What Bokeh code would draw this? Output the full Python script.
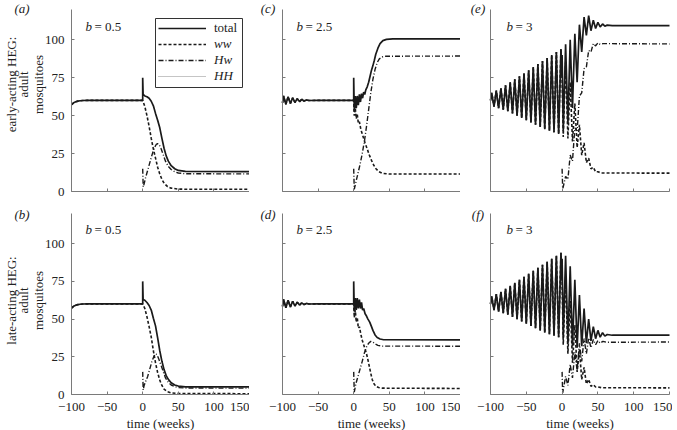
import math
from bokeh.plotting import figure
from bokeh.models import Range1d, FixedTicker, Label, Legend, LegendItem, BoxAnnotation
from bokeh.layouts import row, column
from bokeh.embed import file_html
from bokeh.resources import INLINE

FONT = "Liberation Serif"

# ---------------- ticks ----------------
x_ticks = [-100, -50, 0, 50, 100, 150]
x_tick_text = {-100: "\u2212100", -50: "\u221250"}
y_ticks = [0, 25, 50, 75, 100]

# ---------------- data ----------------
pre_smooth_t = [-100, -97, -94, -91, -88, -84, -78, -60, -30, 0]
pre_smooth_v = [57.3, 58.5, 59.2, 59.6, 59.85, 60.0, 60.05, 60.05, 60.05, 60.05]

pre_damped_t = [-100, -98.5, -95.3, -92.1, -88.9, -85.7, -82.5, -79.3, -76.1, -72.9,
                -69.7, -66.5, -63, -50, 0]
pre_damped_v = [58.5, 63, 57.5, 62.5, 58, 61.8, 58.7, 61.2, 59.3, 60.8,
                59.6, 60.4, 60.0, 60.1, 60.1]

pre_osc_t = [-100.0, -98.3, -95.1, -91.9, -88.7, -85.4, -82.2, -79.0, -75.8, -72.5,
             -69.3, -66.1, -62.9, -59.6, -56.4, -53.2, -50.0, -46.7, -43.5, -40.3,
             -37.1, -33.8, -30.6, -27.4, -24.2, -20.9, -17.7, -14.5, -11.3, -8.0,
             -4.8, -1.6, 0.0]
pre_osc_v = [60, 65, 56, 66.5, 55, 68, 54, 70, 53, 72,
             51.5, 74, 50, 76, 48.5, 78, 47, 80, 45.5, 82,
             44, 84, 42.5, 86, 41, 88, 40, 90, 39, 92,
             38, 94, 75]

a_total_t = [0, 0.6, 3, 6, 9, 12, 15, 18, 21, 24, 27, 30, 33, 36, 40, 45, 50, 60, 150]
a_total_v = [75, 64, 63, 62.5, 61.5, 59.5, 56.5, 51.5, 47, 42, 35, 28.5, 23.5, 20, 17, 15, 13.9, 13.3, 13.1]
a_ww_t = [0, 3, 6, 9, 12, 15, 18, 21, 24, 27, 30, 35, 40, 50, 60, 150]
a_ww_v = [60, 56, 50, 43, 35, 28, 22, 16, 11.5, 8, 5.5, 3.2, 2.2, 1.6, 1.5, 1.5]
a_hw_t = [0, 0.7, 2, 4, 7, 10, 13, 16, 19, 21, 23, 26, 29, 32, 36, 40, 45, 50, 60, 150]
a_hw_v = [15, 3, 5, 9, 14, 19, 24, 28.5, 31, 31.5, 31, 28, 24, 20, 16.5, 14.5, 13, 12.2, 11.7, 11.6]

b_total_t = [0, 0.6, 3, 6, 9, 12, 15, 18, 21, 24, 27, 30, 33, 36, 40, 45, 50, 60, 150]
b_total_v = [75, 63, 62.5, 61, 59, 56, 50.5, 45.5, 37.5, 29, 22, 16.5, 12.5, 10, 7.8, 6.3, 5.6, 5.1, 5.0]
b_ww_t = [0, 3, 6, 9, 12, 15, 18, 21, 24, 27, 30, 35, 40, 50, 150]
b_ww_v = [60, 57, 51.5, 45, 38, 29, 21, 14.5, 9.5, 6, 3.5, 1.8, 1.1, 0.7, 0.5]
b_hw_t = [0, 0.7, 2, 4, 7, 10, 13, 16, 18, 20, 23, 26, 29, 32, 36, 40, 45, 50, 60, 150]
b_hw_v = [15, 3, 6, 8.5, 12, 17, 22, 25.5, 27, 26.5, 23, 19, 15, 11, 8, 6.3, 5.2, 4.6, 4.3, 4.2]

c_total_t = [0, 0.8, 2.2, 3.6, 5, 6.5, 8, 9.5, 11, 12.5, 14, 15.5, 17, 19, 21, 23, 25,
             27, 29, 31, 34, 37, 41, 46, 55, 150]
c_total_v = [75, 53, 63, 55, 63, 57, 64, 59, 64.5, 61.5, 65.5, 64, 67, 69, 72, 76, 80,
             83, 86.5, 90.5, 94.5, 97.5, 99.5, 100.3, 100.6, 100.6]
c_ww_t = [0, 0.8, 2.2, 3.6, 5, 6.5, 8, 10, 13, 16, 19, 22, 25, 28, 31, 35, 40, 50, 150]
c_ww_v = [60, 50, 55, 48, 51, 45, 46, 41, 36.5, 32, 28, 24, 20.5, 17.5, 15.2, 13.2, 12, 11.5, 11.5]
c_hw_t = [0, 0.8, 3, 6, 9, 12, 15, 18, 21, 24, 27, 30, 33, 36, 40, 45, 150]
c_hw_v = [15, 1.5, 6, 12, 18, 25, 33, 43, 54, 65, 74, 80.5, 85, 87.5, 88.7, 89.2, 89.3]

d_total_t = [0, 0.8, 2.2, 3.6, 5, 6.5, 8, 9.5, 11, 12.5, 14, 16, 18, 20, 22.5, 25, 27,
             30, 33, 37, 42, 150]
d_total_v = [75, 55, 64, 56, 64, 57, 63, 57, 61, 56, 57, 53.5, 52, 50, 48, 45, 42.5,
             39.5, 37.8, 36.8, 36.3, 36.2]
d_ww_t = [0, 0.8, 2.2, 3.6, 5, 6.5, 8, 10, 12, 14, 16, 18, 20, 22, 24, 26, 28, 31, 35, 40, 150]
d_ww_v = [60, 51, 56, 48, 51, 44, 45, 40, 36, 33, 30, 27, 23, 18.5, 14, 10, 7.5, 5.5, 4.6, 4.2, 4.0]
d_hw_t = [0, 0.8, 3, 6, 9, 12, 15, 18, 21, 24, 27, 30, 34, 40, 150]
d_hw_v = [15, 1.5, 7, 12, 17, 22, 27.5, 31.5, 34, 35.2, 34.8, 33.6, 32.6, 32.1, 32.0]

e_total_t = [0.0, 1.6, 4.9, 8.1, 11.3, 14.5, 17.8, 21.0, 24.2, 27.4, 30.7, 33.9, 37.1,
             40.3, 43.6, 46.8, 50.0, 53.2, 56.5, 59.7, 63.0, 70.0, 150]
e_total_v = [90, 40, 97, 45, 100, 55, 104, 72, 110, 92, 115, 103, 116,
             106, 113, 107.5, 111.5, 108.5, 110.5, 109, 109.7, 109.4, 109.4]
e_ww_t = [0.0, 1.6, 4.9, 8.1, 11.3, 14.5, 17.8, 21.0, 24.2, 27.4, 30.7, 33.9, 37.1,
          40.3, 43.6, 46.8, 50.0, 55.0, 150]
e_ww_v = [75, 36, 85, 35, 72, 33, 58, 29, 44, 24, 32, 19, 22,
          15, 16, 13, 13, 12.2, 12.1]
e_hw_t = [0.0, 0.8, 1.6, 4.9, 8.1, 11.3, 14.5, 17.8, 21.0, 24.2, 27.4, 30.7, 33.9,
          37.1, 40.3, 43.6, 46.8, 50.0, 53.2, 57.0, 150]
e_hw_v = [15, 2, 3, 10, 8, 24, 20, 42, 40, 63, 65, 81, 82,
          93, 92, 97.5, 96, 98, 97, 97.5, 97.3]

f_total_t = [0.0, 1.6, 4.9, 8.1, 11.3, 14.5, 17.8, 21.0, 24.2, 27.4, 30.7, 33.9, 37.1,
             40.3, 43.6, 46.8, 50.0, 53.2, 56.5, 59.7, 63.0, 70.0, 150]
f_total_v = [90, 38, 92, 34, 85, 32, 76, 31, 66, 32, 57, 34, 50,
             35.5, 45, 37, 42.5, 38, 41, 38.7, 39.8, 39.3, 39.3]
f_ww_t = [0.0, 1.6, 4.9, 8.1, 11.3, 14.5, 17.8, 21.0, 24.2, 27.4, 30.7, 33.9, 37.1,
          40.3, 43.6, 46.8, 50.0, 55.0, 150]
f_ww_v = [75, 33, 78, 27, 62, 21, 46, 15, 30, 10, 18, 7, 10,
          5.5, 6.5, 5, 5, 4.5, 4.4]
f_hw_t = [0.0, 0.8, 1.6, 4.9, 8.1, 11.3, 14.5, 17.8, 21.0, 24.2, 27.4, 30.7, 33.9,
          37.1, 40.3, 43.6, 46.8, 50.0, 53.2, 57.0, 62.0, 150]
f_hw_v = [15, 1, 3, 12, 6, 20, 11, 28, 16, 34, 22, 37, 27,
          37.5, 31, 36.5, 33, 35.8, 34, 35.2, 34.6, 34.8]

hh_t = [0, 150]
hh_v = [0, 0]

panel_labels = ["(a)", "(b)", "(c)", "(d)", "(e)", "(f)"]
b_values = ["0.5", "0.5", "2.5", "2.5", "3", "3"]
row_titles = [["early-acting HEG:", "adult", "mosquitoes"],
              ["late-acting HEG:", "adult", "mosquitoes"]]
legend_names = ["total", "ww", "Hw", "HH"]

panels = {
    "a": (pre_smooth_t, pre_smooth_v, a_total_t, a_total_v, a_ww_t, a_ww_v, a_hw_t, a_hw_v),
    "b": (pre_smooth_t, pre_smooth_v, b_total_t, b_total_v, b_ww_t, b_ww_v, b_hw_t, b_hw_v),
    "c": (pre_damped_t, pre_damped_v, c_total_t, c_total_v, c_ww_t, c_ww_v, c_hw_t, c_hw_v),
    "d": (pre_damped_t, pre_damped_v, d_total_t, d_total_v, d_ww_t, d_ww_v, d_hw_t, d_hw_v),
    "e": (pre_osc_t, pre_osc_v, e_total_t, e_total_v, e_ww_t, e_ww_v, e_hw_t, e_hw_v),
    "f": (pre_osc_t, pre_osc_v, f_total_t, f_total_v, f_ww_t, f_ww_v, f_hw_t, f_hw_v),
}

# ---------------- styling ----------------
LINE = "#1a1a1a"
GRAY = "#8a8a8a"
AXIS = "#7a7a7a"
TXT = "#222222"
STY_TOTAL = dict(line_color=LINE, line_width=1.7)
STY_WW = dict(line_color=LINE, line_width=1.6, line_dash="3 2")
STY_HW = dict(line_color=LINE, line_width=1.4, line_dash="5 2 1 2")
STY_HH = dict(line_color=GRAY, line_width=1.2, line_dash="1 1")

# ---------------- layout geometry (page pixels) ----------------
ROOT_LEFT, ROOT_TOP = 2, 0
col_canvas = [(2, 249), (249, 460), (460, 672)]
col_data = [(71, 249), (282, 460), (490, 669)]
row_canvas = [(0, 200), (200, 430)]
row_data = [(9, 191), (213, 394)]
X0, X1, Y0, Y1 = -100, 150, 0, 120
LEG_BOX = (155, 242, 18, 87)   # left, right, top, bottom (page px)
LEG_ROW = 16


def make_panel(key, ci, ri, idx):
    pre_t, pre_v, tt, tv, wt, wv, ht, hv = panels[key]
    cl, cr = col_canvas[ci]
    dl, dr = col_data[ci]
    ct, cb = row_canvas[ri]
    dt, db = row_data[ri]
    sx = (dr - dl) / (X1 - X0)
    sy = (db - dt) / (Y1 - Y0)
    xr = Range1d(X0 - (dl - cl) / sx, X1 + (cr - dr) / sx)
    yr = Range1d(Y0 - (cb - db) / sy, Y1 + (dt - ct) / sy)

    p = figure(width=cr - cl, height=cb - ct, min_border=0,
               min_border_left=0, min_border_right=0, min_border_top=0, min_border_bottom=0,
               x_range=xr, y_range=yr, output_backend="svg", toolbar_location=None)
    p.outline_line_color = None
    p.grid.visible = False
    p.background_fill_color = "white"
    p.border_fill_color = "white"

    xa, ya = p.xaxis[0], p.yaxis[0]
    xa.fixed_location = 0
    ya.fixed_location = -100
    xa.bounds = (X0, X1)
    ya.bounds = (Y0, Y1)
    for ax in (xa, ya):
        ax.axis_line_color = AXIS
        ax.axis_line_width = 1
        ax.major_tick_line_color = AXIS
        ax.major_tick_in = 3
        ax.major_tick_out = 0
        ax.minor_tick_line_color = None
        ax.major_label_text_font = FONT
        ax.major_label_text_color = TXT
        ax.major_label_text_font_size = "13px"
    xa.ticker = FixedTicker(ticks=x_ticks)
    ya.ticker = FixedTicker(ticks=y_ticks)
    xa.major_label_overrides = x_tick_text

    if ri == 1:
        xa.major_label_standoff = 8
        xa.axis_label = "time (weeks)"
        xa.axis_label_text_font = FONT
        xa.axis_label_text_font_size = "13px"
        xa.axis_label_text_font_style = "normal"
        xa.axis_label_text_color = TXT
        xa.axis_label_standoff = 2
    else:
        xa.major_label_text_color = None
    if ci == 0:
        ya.major_label_standoff = 7
    else:
        ya.major_label_text_color = None

    r_hh = p.line(hh_t, hh_v, **STY_HH)
    r_hw = p.line(ht, hv, **STY_HW)
    r_ww = p.line(pre_t + wt, pre_v + wv, **STY_WW)
    r_tot = p.line(pre_t + tt, pre_v + tv, **STY_TOTAL)

    # page coords -> screen coords of this frame (frame == canvas)
    def px(x):
        return x - cl

    def py(y):
        return cb - y

    def dx(x):
        return xr.start + (x - cl) / sx

    def dy(y):
        return yr.start + (cb - y) / sy

    letter_x = [21.5, 267.5, 477.5][ci]
    letter_y = [8, 214][ri]
    p.add_layout(Label(x=px(letter_x), y=py(letter_y), x_units="screen", y_units="screen",
                       text=panel_labels[idx], text_font=FONT, text_font_size="13px",
                       text_font_style="italic", text_color=TXT,
                       text_align="center", text_baseline="middle"))

    b_x = [85, 296, 506][ci]
    b_y = [26, 229][ri]
    p.add_layout(Label(x=px(b_x), y=py(b_y), x_units="screen", y_units="screen",
                       text="b", text_font=FONT, text_font_size="13px",
                       text_font_style="italic", text_color=TXT,
                       text_align="left", text_baseline="middle"))
    p.add_layout(Label(x=px(b_x + 9), y=py(b_y), x_units="screen", y_units="screen",
                       text="= " + b_values[idx], text_font=FONT, text_font_size="13px",
                       text_color=TXT, text_align="left", text_baseline="middle"))

    if ci == 0:
        yc = [84, 300][ri]
        for txt, xo in zip(row_titles[ri], [11, 23, 37.5]):
            p.add_layout(Label(x=px(xo), y=py(yc), x_units="screen", y_units="screen",
                               text=txt, angle=math.pi / 2, text_font=FONT,
                               text_font_size="13px", text_color=TXT,
                               text_align="center", text_baseline="middle"))

    if key == "a":
        lb_l, lb_r, lb_t, lb_b = LEG_BOX
        p.add_layout(BoxAnnotation(left=dx(lb_l), right=dx(lb_r), top=dy(lb_t), bottom=dy(lb_b),
                                   fill_color="white", fill_alpha=1.0,
                                   line_color="#333333", line_width=1, line_alpha=1.0))
        pad = 3
        common = dict(orientation="vertical", glyph_width=48,
                      glyph_height=LEG_ROW, label_height=LEG_ROW, spacing=0, padding=pad,
                      margin=0, label_standoff=8, label_text_font=FONT,
                      label_text_font_size="13px", label_text_color=TXT,
                      label_text_baseline="middle", border_line_alpha=0,
                      background_fill_alpha=0)
        d_ww = p.line([], [], **STY_WW)
        d_hw = p.line([], [], **STY_HW)
        d_hh = p.line([], [], **STY_HH)
        # first row: "total" (upright); rows 2-4: italic genotype labels
        leg_b = Legend(items=[LegendItem(label=legend_names[1], renderers=[r_ww]),
                              LegendItem(label=legend_names[2], renderers=[r_hw]),
                              LegendItem(label=legend_names[3], renderers=[r_hh])],
                       location=(px(lb_l), py(lb_b)),
                       label_text_font_style="italic", **common)
        rows_top = lb_b - pad - 3 * LEG_ROW
        leg_a = Legend(items=[LegendItem(label=legend_names[0], renderers=[r_tot])],
                       location=(px(lb_l), py(rows_top + pad)), **common)
        p.add_layout(leg_a)
        p.add_layout(leg_b)
    return p


order = [["a", "c", "e"], ["b", "d", "f"]]
idx_of = {"a": 0, "b": 1, "c": 2, "d": 3, "e": 4, "f": 5}
rows = []
for ri, keys in enumerate(order):
    figs = [make_panel(k, ci, ri, idx_of[k]) for ci, k in enumerate(keys)]
    rows.append(row(*figs))

layout = column(*rows, margin=(ROOT_TOP, 0, 0, ROOT_LEFT))

open("out.html", "w").write(file_html(layout, INLINE))
